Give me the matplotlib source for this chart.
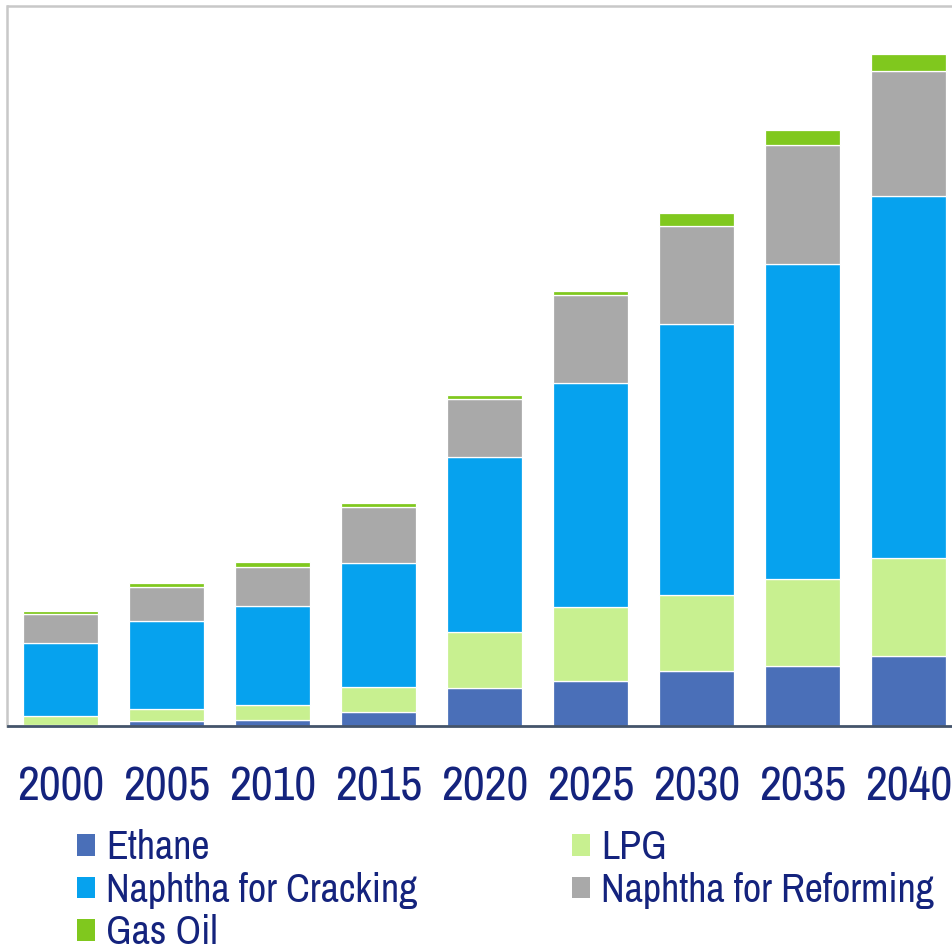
import matplotlib
matplotlib.use("Agg")
import matplotlib.pyplot as plt
import numpy as np

plt.rcParams['font.family'] = ['Archivo Narrow', 'DejaVu Sans']

years = ["2000", "2005", "2010", "2015", "2020", "2025", "2030", "2035", "2040"]
ethane = [0.05, 0.43, 0.53, 1.38, 3.72, 4.45, 5.42, 6.00, 6.97]
lpg = [0.90, 1.22, 1.52, 2.52, 5.66, 7.40, 7.63, 8.67, 9.78]
naphtha_cracking = [7.32, 8.78, 9.88, 12.35, 17.52, 22.40, 27.10, 31.53, 36.17]
naphtha_reforming = [2.86, 3.42, 3.94, 5.65, 5.80, 8.85, 9.83, 11.89, 12.55]
gas_oil = [0.28, 0.37, 0.51, 0.32, 0.35, 0.35, 1.24, 1.44, 1.68]

series = [
    ("Ethane", ethane, "#4A6FB8"),
    ("LPG", lpg, "#C8F090"),
    ("Naphtha for Cracking", naphtha_cracking, "#06A2EE"),
    ("Naphtha for Reforming", naphtha_reforming, "#A9A9A9"),
    ("Gas Oil", gas_oil, "#80C81E"),
]

W, H = 953, 950
fig = plt.figure(figsize=(W / 100, H / 100), dpi=100)
base_px = 725.5
top_px = 6
left_px = 7.5
ax = fig.add_axes([left_px / W, (H - base_px) / H, 954 / W, (base_px - top_px) / H])

x = np.arange(len(years))
bottom = np.zeros(len(years))
handles = {}
for name, vals, col in series:
    v = np.array(vals)
    b = ax.bar(x, v, width=0.71, bottom=bottom, color=col, edgecolor="white",
               linewidth=0.9, label=name, zorder=2)
    handles[name] = b
    bottom += v

ax.set_xlim(-0.5, 8.5)
ax.set_ylim(0, (base_px - top_px) / 10)
ax.set_yticks([])
ax.set_xticks(x)
ax.set_xticklabels(years, fontsize=34.5, color="#14237D")
ax.tick_params(axis="x", length=0, pad=28.5)

for s in ["left", "top"]:
    ax.spines[s].set_color("#C8C8C8")
    ax.spines[s].set_linewidth(1.8)
ax.spines["right"].set_visible(False)
ax.spines["bottom"].set_color("#44546A")
ax.spines["bottom"].set_linewidth(2.0)
ax.spines["bottom"].set_zorder(3)

order = ["Ethane", "Naphtha for Cracking", "Gas Oil", "LPG", "Naphtha for Reforming"]
leg = fig.legend([handles[n] for n in order], order, ncol=2, loc="upper left",
                 bbox_to_anchor=(77 / W, 1 - 829 / H), frameon=False,
                 fontsize=28.8, handlelength=0.45, handleheight=0.45,
                 handletextpad=0.28, labelspacing=0.14, columnspacing=3.85,
                 borderpad=0, borderaxespad=0)
for t in leg.get_texts():
    t.set_color("#14237D")
for h in leg.legend_handles:
    h.set_edgecolor("none")

fig.savefig("out.png", dpi=100)
